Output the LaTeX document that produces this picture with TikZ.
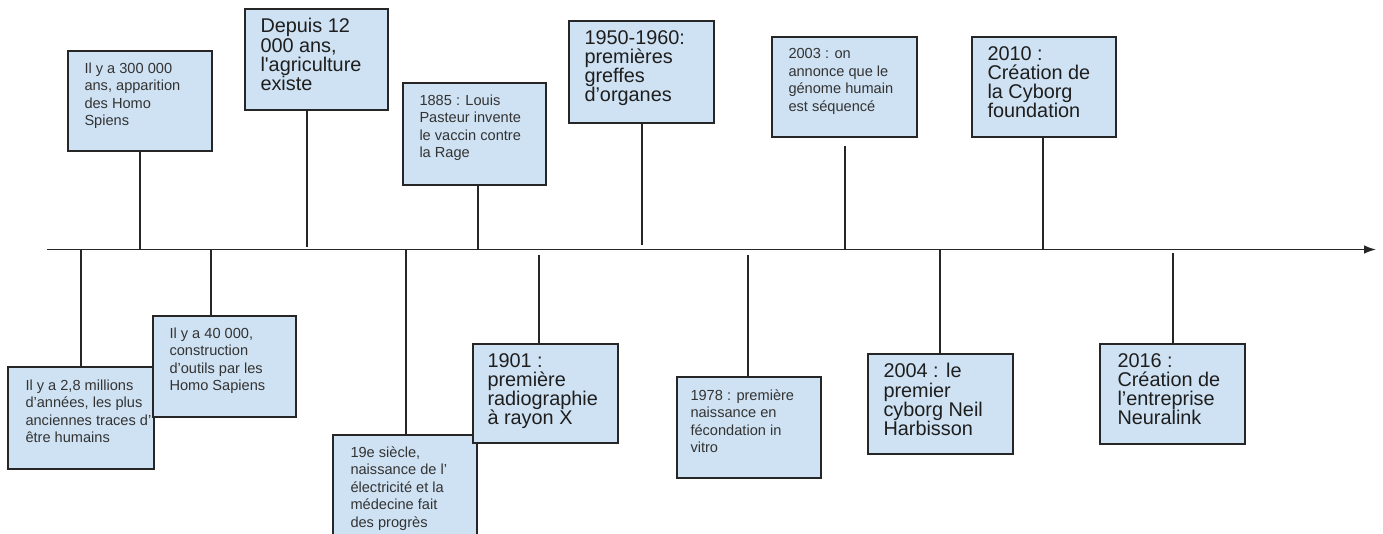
\documentclass[tikz,border=0pt]{standalone}
\usepackage{fontspec}
\setmainfont{Liberation Sans}
\usetikzlibrary{arrows.meta,fit}
\definecolor{boxfill}{HTML}{CFE2F3}
\definecolor{boxline}{HTML}{262626}
\definecolor{txtsmall}{HTML}{333333}
\definecolor{txtlarge}{HTML}{1E1E1E}
\tikzset{
  evbox/.style={draw=boxline, fill=boxfill, line width=1.15pt, inner sep=0pt},
  smalltxt/.style={anchor=north west, inner sep=0pt, align=left, text=txtsmall,
    font=\fontsize{10.95pt}{13.1pt}\selectfont},
  largetxt/.style={anchor=north west, inner sep=0pt, align=left, text=txtlarge,
    font=\fontsize{14.9pt}{14.4pt}\selectfont},
  stem/.style={draw=boxline, line width=1pt},
  axisline/.style={draw=boxline, line width=1.15pt, -{Latex[length=9pt,width=6.5pt]}}
}
\begin{document}
\begin{tikzpicture}[x=0.75pt,y=-0.75pt]
\useasboundingbox (0,0) rectangle (1383,533);
\clip (0,0) rectangle (1383,533);

% axis
\coordinate (ax0) at (47,249.5);
\coordinate (ax1) at (1376,249.5);
\draw[axisline] (ax0) -- (ax1);

% axis anchors for stems
\coordinate (a1) at (140,249.5);
\coordinate (a2) at (307,247);
\coordinate (a3) at (478,249.5);
\coordinate (a4) at (642,245);
\coordinate (a5) at (845,249.5);
\coordinate (a6) at (1043,249.5);
\coordinate (a7) at (81,249.5);
\coordinate (a8) at (211,249.5);
\coordinate (a9) at (406,249.5);
\coordinate (a10) at (539,255);
\coordinate (a11) at (748,255);
\coordinate (a12) at (940,249.5);
\coordinate (a13) at (1173,253);
\coordinate (g5) at (845,146);

% top boxes
\node[evbox, fit={(68,51)(212,151)}] (b1) {};
\node[smalltxt] (t1) at ([shift={(17,12)}]b1.north west) {Il y a 300 000\\ans, apparition\\des Homo\\Spiens};

\node[evbox, fit={(245,9)(388,110)}] (b2) {};
\node[largetxt] (t2) at ([shift={(16,10)}]b2.north west) {Depuis 12\\000 ans,\\l\textquotesingle agriculture\\existe};

\node[evbox, fit={(403,83)(546,185)}] (b3) {};
\node[smalltxt] (t3) at ([shift={(17,12)}]b3.north west) {1885 : Louis\\Pasteur invente\\le vaccin contre\\la Rage};

\node[evbox, fit={(569,21)(714,123)}] (b4) {};
\node[largetxt] (t4) at ([shift={(16,10)}]b4.north west) {1950-1960:\\premières\\greffes\\d’organes};

\node[evbox, fit={(772,37)(917,137)}] (b5) {};
\node[smalltxt] (t5) at ([shift={(17,12)}]b5.north west) {2003 : on\\annonce que le\\génome humain\\est séquencé};

\node[evbox, fit={(972,37)(1116,137)}] (b6) {};
\node[largetxt] (t6) at ([shift={(16,10)}]b6.north west) {2010 :\\Création de\\la Cyborg\\foundation};

% bottom boxes
\node[evbox, fit={(8,367)(154,469)}] (b7) {};
\node[smalltxt] (t7) at ([shift={(18,13)}]b7.north west) {Il y a 2,8 millions\\d’années, les plus\\anciennes traces d’\\être humains};

\node[evbox, fit={(153,316)(296,417)}] (b8) {};
\node[smalltxt] (t8) at ([shift={(17,12)}]b8.north west) {Il y a 40 000,\\construction\\d’outils par les\\Homo Sapiens};

\node[evbox, fit={(333,435)(477,560)}] (b9) {};
\node[smalltxt] (t9) at ([shift={(18,12)}]b9.north west) {19e siècle,\\naissance de l’\\électricité et la\\médecine fait\\des progrès};

\node[evbox, fit={(473,344)(618,443)}] (b10) {};
\node[largetxt] (t10) at ([shift={(15,10)}]b10.north west) {1901 :\\première\\radiographie\\à rayon X};

\node[evbox, fit={(677,377)(821,478)}] (b11) {};
\node[smalltxt] (t11) at ([shift={(14,13)}]b11.north west) {1978 : première\\naissance en\\fécondation in\\vitro};

\node[evbox, fit={(868,354)(1013,454)}] (b12) {};
\node[largetxt] (t12) at ([shift={(16,10)}]b12.north west) {2004 : le\\premier\\cyborg Neil\\Harbisson};

\node[evbox, fit={(1100,344)(1245,444)}] (b13) {};
\node[largetxt] (t13) at ([shift={(18,10)}]b13.north west) {2016 :\\Création de\\l’entreprise\\Neuralink};

% stems
\draw[stem] (b1.south -| a1) -- (a1);
\draw[stem] (b2.south -| a2) -- (a2);
\draw[stem] (b3.south -| a3) -- (a3);
\draw[stem] (b4.south -| a4) -- (a4);
\draw[stem] (g5) -- (a5);
\draw[stem] (b6.south -| a6) -- (a6);
\draw[stem] (a7) -- (b7.north -| a7);
\draw[stem] (a8) -- (b8.north -| a8);
\draw[stem] (a9) -- (b9.north -| a9);
\draw[stem] (a10) -- (b10.north -| a10);
\draw[stem] (a11) -- (b11.north -| a11);
\draw[stem] (a12) -- (b12.north -| a12);
\draw[stem] (a13) -- (b13.north -| a13);
\end{tikzpicture}
\end{document}
